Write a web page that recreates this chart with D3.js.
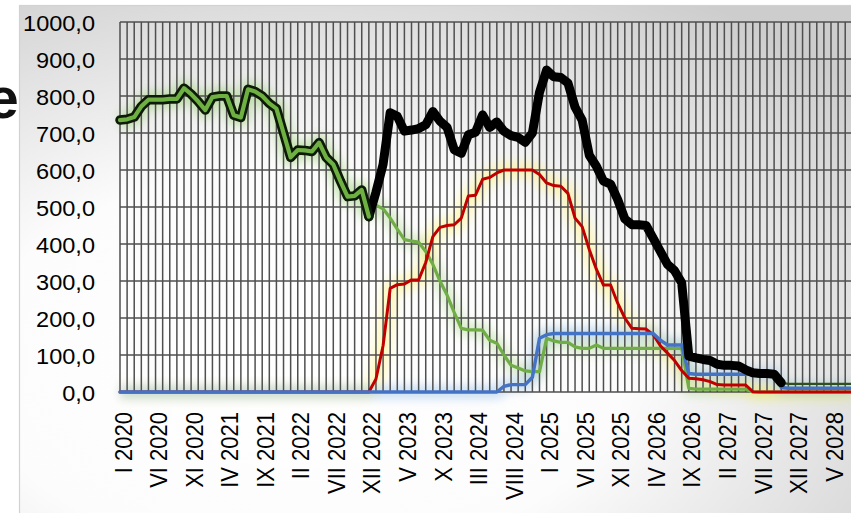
<!DOCTYPE html>
<html><head><meta charset="utf-8">
<script src="https://cdn.jsdelivr.net/npm/d3@7"></script>
<style>body{margin:0;overflow:hidden;background:#fff} svg{display:block}</style>
</head><body><svg id="c" width="851" height="513"></svg>
<script>
// ---------- DATA ----------
const romans = ["I","II","III","IV","V","VI","VII","VIII","IX","X","XI","XII"];
const startYear = 2020;
const monthCount = 104; // I 2020 .. VIII 2028
const categories = d3.range(monthCount).map(i => romans[i % 12] + " " + (startYear + Math.floor(i / 12)));
const tickLabels = ["I 2020","VI 2020","XI 2020","IV 2021","IX 2021","II 2022","VII 2022","XII 2022",
  "V 2023","X 2023","III 2024","VIII 2024","I 2025","VI 2025","XI 2025","IV 2026","IX 2026",
  "II 2027","VII 2027","XII 2027","V 2028"];
const yTicks = [0,100,200,300,400,500,600,700,800,900,1000];

// total (sum of components)
const total = [
  735,737,743,772,790,790,790,792,792,821,805,785,762,797,800,800,748,742,818,812,
  800,780,766,700,634,654,653,650,674,634,615,570,528,530,546,474,540,615,755,745,
  705,708,712,722,758,732,715,655,645,695,702,749,715,730,705,693,688,675,700,810,
  870,852,850,835,770,735,640,610,570,562,520,468,452,452,450,415,380,345,328,295,
  97,92,88,85,75,72,72,70,60,52,50,50,48,25,22,22,22,22,22,22,
  22,22,22,22
];
const red = [
  0,0,0,0,0,0,0,0,0,0,0,0,0,0,0,0,0,0,0,0,
  0,0,0,0,0,0,0,0,0,0,0,0,0,0,0,0,35,125,280,290,
  292,303,303,350,420,445,450,452,470,530,532,575,580,592,600,600,600,600,600,588,
  565,558,556,537,470,447,385,332,289,289,240,200,172,171,170,155,125,105,85,58,
  37,36,33,28,20,19,19,19,19,1,0,0,0,0,0,0,0,0,0,0,
  0,0,0,0
];
const green = [
  null,null,null,null,null,null,null,null,null,null,null,null,null,null,null,null,null,null,null,null,
  null,null,null,null,null,null,null,null,null,null,null,null,null,null,null,474,505,495,470,440,
  412,408,405,380,345,300,262,215,172,168,168,167,140,132,100,72,65,57,55,55,
  145,138,134,134,122,118,118,127,118,118,118,118,118,118,118,118,118,118,118,118,
  10,8,8,8,8,8,8,8,8,0,0,0,0,0,0,0,0,0,0,0,
  0,0,0,0
];
const blue = [
  0,0,0,0,0,0,0,0,0,0,0,0,0,0,0,0,0,0,0,0,
  0,0,0,0,0,0,0,0,0,0,0,0,0,0,0,0,0,0,0,0,
  0,0,0,0,0,0,0,0,0,0,0,0,0,0,15,20,20,20,40,145,
  155,158,158,158,158,158,158,158,158,158,158,158,158,158,158,158,140,127,127,127,
  50,48,48,48,48,48,48,48,48,48,48,48,48,12,10,10,10,10,10,10,
  10,10,10,10
];
const totalPhaseEnd1 = 35, totalPhaseEnd2 = 93;

// ---------- LAYOUT ----------
const W = 851, H = 513;
const plotLeft = 120, step = 7.11, plotTop = 22, plotBottom = 392;
const svg = d3.select("#c");
const defs = svg.append("defs");
const rg = defs.append("radialGradient").attr("id","bg").attr("cx","0.33").attr("cy","0.7").attr("r","0.85");
rg.append("stop").attr("offset","0").attr("stop-color","#ffffff");
rg.append("stop").attr("offset","0.45").attr("stop-color","#fcfcfc");
rg.append("stop").attr("offset","1").attr("stop-color","#cdcdcd");
const f = defs.append("filter").attr("id","glow").attr("x","-20%").attr("y","-20%").attr("width","140%").attr("height","140%");
f.append("feGaussianBlur").attr("stdDeviation",5);

svg.append("rect").attr("width",W).attr("height",H).attr("fill","#fff");
svg.append("rect").attr("x",19.5).attr("y",5.5).attr("width",W).attr("height",H)
  .attr("fill","url(#bg)").attr("stroke","#d2d2d2").attr("stroke-width",1.2);

svg.append("text").attr("x",-13.5).attr("y",118).attr("font-family","Liberation Sans, Arial, sans-serif")
  .attr("font-weight","bold").attr("font-size",58).attr("fill","#111").text("e");

const x = d3.scalePoint().domain(d3.range(monthCount)).range([plotLeft, plotLeft + step * (monthCount - 1)]);
const y = d3.scaleLinear().domain([0,1000]).range([plotBottom, plotTop]);

const line = d3.line().defined(d => d.v != null).x(d => x(d.i)).y(d => y(d.v));
const toPts = arr => arr.map((v,i) => ({i, v}));

// glows
const glowG = svg.append("g").attr("filter","url(#glow)").attr("fill","none").attr("stroke-linejoin","round");
function glow(pts, color, w, op){
  glowG.append("path").datum(pts).attr("d", line).attr("stroke", color).attr("stroke-width", w).attr("stroke-opacity", op);
}
glow(toPts(total).slice(0, totalPhaseEnd1+1), "#9fd27a", 18, 0.55);
glow(toPts(green), "#b5dc98", 14, 0.5);
glow(toPts(red), "#fff27a", 16, 0.5);
glow(toPts(blue), "#9cc3ea", 14, 0.5);

// grid
const grid = svg.append("g").attr("stroke","#4f4f4f").attr("stroke-width",1.5);
grid.selectAll("line.v").data(d3.range(monthCount)).join("line").attr("class","v")
  .attr("x1", d => x(d)).attr("x2", d => x(d)).attr("y1", y(1000)).attr("y2", y(0));
grid.selectAll("line.h").data(yTicks).join("line").attr("class","h")
  .attr("x1", plotLeft).attr("x2", W + 5).attr("y1", d => y(d)).attr("y2", d => y(d));

// axes
const fmt = v => d3.format(".1f")(v).replace(".", ",");
const font = "Liberation Sans, Arial, sans-serif";
const yAx = svg.append("g").attr("transform", `translate(${plotLeft},0)`)
  .call(d3.axisLeft(y).tickValues(yTicks).tickFormat(fmt).tickSize(0).tickPadding(0));
yAx.select(".domain").remove();
yAx.selectAll("text").attr("x", 0).attr("dy","0.36em")
  .attr("transform","translate(-25,1) scale(1.07,1)")
  .attr("font-family", font).attr("font-size", 22).attr("fill","#000");

const tickIdx = tickLabels.map(l => categories.indexOf(l));
const xAx = svg.append("g").attr("transform", `translate(0,${plotBottom})`)
  .call(d3.axisBottom(x).tickValues(tickIdx).tickFormat(i => categories[i]).tickSize(0).tickPadding(0));
xAx.select(".domain").remove();
xAx.selectAll("text").attr("x",0).attr("y",0).attr("dy","0.35em").attr("text-anchor","end")
  .attr("transform","translate(2.5,20) scale(1.12,1) rotate(-90)")
  .attr("font-family", font).attr("font-size", 22).attr("fill","#000");

// lines
const lg = svg.append("g").attr("fill","none").attr("stroke-linejoin","round").attr("stroke-linecap","round");
function draw(pts, color, w){
  lg.append("path").datum(pts).attr("d", line).attr("stroke", color).attr("stroke-width", w);
}
draw(toPts(green), "#70ad47", 3.2);
draw(toPts(red), "#c00000", 3);
draw(toPts(blue), "#4472c4", 3.4);
draw(toPts(total).slice(totalPhaseEnd2), "#2f4f1f", 2.2);
draw(toPts(total).slice(totalPhaseEnd1, totalPhaseEnd2+1), "#000000", 9);
const early = toPts(total).slice(0, totalPhaseEnd1+1);
draw(early, "#0d1a08", 9.5);
draw(early, "#6fb043", 4.2);
</script></body></html>
